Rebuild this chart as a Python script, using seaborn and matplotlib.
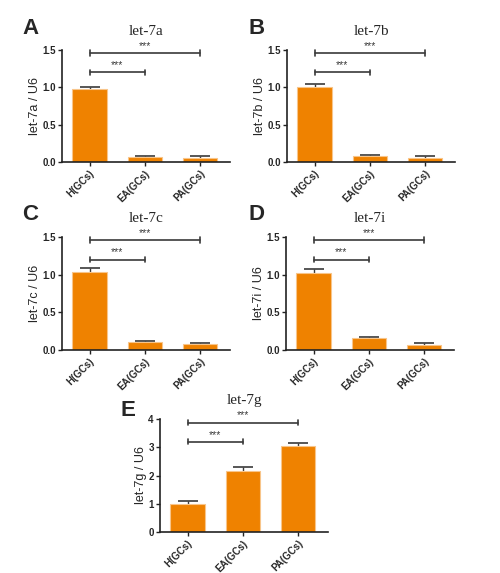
import matplotlib
matplotlib.use("Agg")
import matplotlib.pyplot as plt
import seaborn as sns
import numpy as np

sns.set_theme(style="ticks")
plt.rcParams['font.family'] = ['Liberation Sans', 'DejaVu Sans']

categories = ["H(GCs)", "EA(GCs)", "PA(GCs)"]

titles = ["let-7a", "let-7b", "let-7c", "let-7i", "let-7g"]
letters = ["A", "B", "C", "D", "E"]
ylabels = ["let-7a / U6", "let-7b / U6", "let-7c / U6", "let-7i / U6", "let-7g / U6"]

means_a = [0.975, 0.062, 0.049]
err_a = [0.03, 0.022, 0.026]
means_b = [1.01, 0.076, 0.053]
err_b = [0.04, 0.017, 0.027]
means_c = [1.037, 0.10, 0.075]
err_c = [0.055, 0.024, 0.018]
means_d = [1.027, 0.155, 0.071]
err_d = [0.048, 0.018, 0.017]
means_e = [1.003, 2.16, 3.03]
err_e = [0.083, 0.13, 0.13]

brackets_ad = [1.20, 1.46]
brackets_e = [3.19, 3.87]
stars = "***"

ylim_ad = 1.5
ylim_e = 4.0
yticks_ad = [0.0, 0.5, 1.0, 1.5]
yticks_e = [0, 1, 2, 3, 4]

W, H = 500, 573
fig = plt.figure(figsize=(W / 100, H / 100), dpi=100)

# (left, right, top, bottom) in pixels
boxes = [(62, 230, 50, 162), (287, 455, 50, 162),
         (62, 230, 237, 350), (286, 454, 237, 350),
         (160, 328, 419, 532)]
letter_pos = [(22, 28), (248, 28), (22, 215), (248, 215), (120, 410)]

panels = [(means_a, err_a), (means_b, err_b), (means_c, err_c), (means_d, err_d), (means_e, err_e)]

bar_color = "#EF8200"
edge_color = "#F8C58A"
line_color = "#3a3a3a"

for i, (means, errs) in enumerate(panels):
    l, r, t, b = boxes[i]
    ax = fig.add_axes([l / W, (H - b) / H, (r - l) / W, (b - t) / H])
    sns.barplot(x=categories, y=means, color=bar_color, width=0.62, ax=ax,
                edgecolor=edge_color, linewidth=0.8, saturation=1, zorder=3)
    pos = np.arange(len(categories))
    ax.errorbar(pos, means, yerr=errs, fmt='none',
                ecolor=line_color, elinewidth=1.0, capsize=7.5, capthick=1.2, zorder=2)
    if i < 4:
        ax.set_ylim(0, ylim_ad)
        ax.set_yticks(yticks_ad)
        ax.set_yticklabels([f"{v:.1f}" for v in yticks_ad])
        levels = brackets_ad
        dy = 0.035
        star_off = 0.03
    else:
        ax.set_ylim(0, ylim_e)
        ax.set_yticks(yticks_e)
        ax.set_yticklabels([str(v) for v in yticks_e])
        levels = brackets_e
        dy = 0.09
        star_off = 0.08
    ax.set_xlim(-0.5, 2.55)
    # significance brackets H vs EA, H vs PA
    for k, lev in enumerate(levels):
        x2 = pos[k + 1]
        ax.plot([pos[0], x2], [lev, lev], color=line_color, lw=1.2, clip_on=False)
        ax.plot([pos[0], pos[0]], [lev - dy, lev + dy], color=line_color, lw=1.2, clip_on=False)
        ax.plot([x2, x2], [lev - dy, lev + dy], color=line_color, lw=1.2, clip_on=False)
        ax.text((pos[0] + x2) / 2, lev + star_off, stars, ha='center', va='bottom',
                fontsize=7.5, color=line_color, clip_on=False)
    for s in ["top", "right"]:
        ax.spines[s].set_visible(False)
    for s in ["left", "bottom"]:
        ax.spines[s].set_linewidth(1.2)
        ax.spines[s].set_color("#222222")
        ax.spines[s].set_zorder(4)
    ax.tick_params(axis='both', direction='out', length=3, width=1, color="#222222",
                   pad=1.5)
    ax.tick_params(axis='y', labelsize=7)
    for lab in ax.get_yticklabels():
        lab.set_fontweight('bold')
    ax.set_xticks(pos)
    ax.set_xticklabels(categories, rotation=45, ha='right', rotation_mode='anchor',
                       fontsize=7, fontweight='bold')
    ax.set_xlabel("")
    ax.set_ylabel(ylabels[i], fontsize=9, labelpad=1)
    ax.set_title(titles[i], fontsize=11, family='Liberation Serif', pad=11)
    lx, ly = letter_pos[i]
    fig.text(lx / W, 1 - ly / H, letters[i], fontsize=16, fontweight='bold',
             ha='left', va='center')

fig.savefig("out.png", dpi=100)
